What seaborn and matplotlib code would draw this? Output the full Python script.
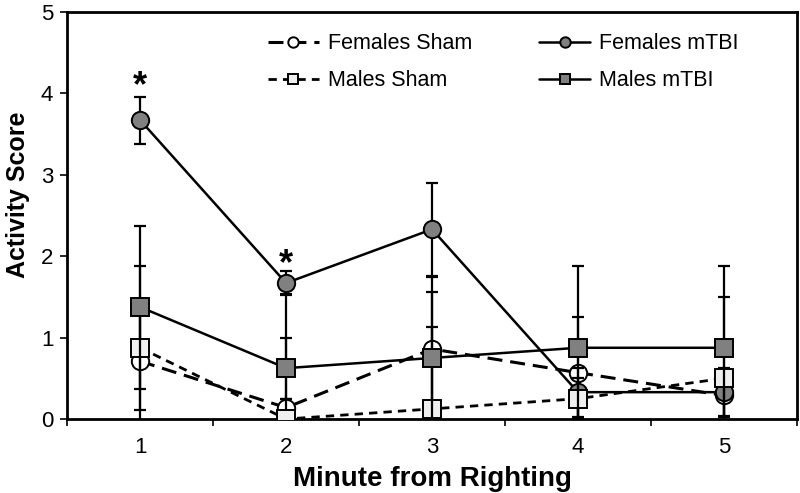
import numpy as np
import pandas as pd
import matplotlib
matplotlib.use("Agg")
import matplotlib.pyplot as plt
from matplotlib.lines import Line2D
import seaborn as sns

minutes = [1, 2, 3, 4, 5]

fem_sham = [0.71, 0.14, 0.86, 0.57, 0.29]
fem_sham_err = [0.60, 1.40, 0.70, 0.68, 0.25]
fem_tbi = [3.67, 1.67, 2.33, 0.33, 0.33]
fem_tbi_err = [0.29, 0.15, 0.57, 0.30, 0.30]
male_sham = [0.875, 0.0, 0.125, 0.25, 0.5]
male_sham_err = [1.0, 0.25, 1.0, 0.25, 1.0]
male_tbi = [1.375, 0.625, 0.75, 0.875, 0.875]
male_tbi_err = [1.0, 0.375, 1.0, 1.0, 1.0]

sig_minutes = [1, 2]
sig_y = [4.08, 1.90]

sns.set_style("ticks")
plt.rcParams['font.family'] = ['Liberation Sans', 'DejaVu Sans']
plt.rcParams['text.color'] = 'black'
plt.rcParams['axes.labelcolor'] = 'black'
plt.rcParams['xtick.color'] = 'black'
plt.rcParams['ytick.color'] = 'black'

fig = plt.figure(figsize=(8, 4.93), dpi=100)
ax = fig.add_axes([0.084, 0.150, 0.912, 0.826])

series = [
    ("Females Sham", fem_sham, fem_sham_err, "o", "white", (0, (4.9, 2.6)), 2.2),
    ("Females mTBI", fem_tbi, fem_tbi_err, "o", "#808080", "-", 1.8),
    ("Males Sham", male_sham, male_sham_err, "s", "#efefef", (0, (3.0, 2.2)), 2.0),
    ("Males mTBI", male_tbi, male_tbi_err, "s", "#808080", "-", 1.8),
]

handles = {}
for z, (name, vals, err, mk, fc, ls, lw) in enumerate(series):
    df = pd.DataFrame({"minute": minutes, "score": vals})
    ax.errorbar(minutes, vals, yerr=err, fmt="none", ecolor="black",
                elinewidth=1.6, capsize=4.5, capthick=1.6, zorder=2 + z)
    sns.lineplot(data=df, x="minute", y="score", ax=ax, color="black",
                 linestyle=ls, linewidth=lw, marker=mk, markersize=12.5,
                 markerfacecolor=fc, markeredgecolor="black", markeredgewidth=1.4,
                 zorder=3 + z)
    handles[name] = Line2D([], [], color="black", linestyle=ls, linewidth=lw,
                           marker=mk, markersize=7.5, markerfacecolor=fc,
                           markeredgecolor="black", markeredgewidth=1.4)

for m, y in zip(sig_minutes, sig_y):
    ax.text(m, y, "*", ha="center", va="center", fontsize=26, fontweight="bold")

ax.set_xlim(0.5, 5.5)
ax.set_ylim(0, 5)
ax.set_yticks([0, 1, 2, 3, 4, 5])
ax.set_xticks(minutes)
ax.set_xticks([0.5, 1.5, 2.5, 3.5, 4.5, 5.5], minor=True)
ax.tick_params(axis="x", which="major", length=0, labelsize=16, pad=13)
ax.tick_params(axis="x", which="minor", length=5, width=1.2, direction="out")
ax.tick_params(axis="y", length=5, width=1.2, labelsize=16, pad=5)
for sp in ax.spines.values():
    sp.set_visible(True)
    sp.set_linewidth(2)
    sp.set_color("black")

ax.set_xlabel("Minute from Righting", fontsize=20, fontweight="bold", labelpad=6)
ax.set_ylabel("Activity Score", fontsize=18, fontweight="bold")
ax.yaxis.set_label_coords(-0.051, 0.55)

order = ["Females Sham", "Males Sham", "Females mTBI", "Males mTBI"]
ax.legend([handles[n] for n in order], order, ncol=2, frameon=False,
          fontsize=15.5, loc="upper left", bbox_to_anchor=(0.248, 0.995),
          handlelength=2.4, columnspacing=3.1, labelspacing=0.75, handletextpad=0.4)

fig.savefig("out.png", dpi=100)
